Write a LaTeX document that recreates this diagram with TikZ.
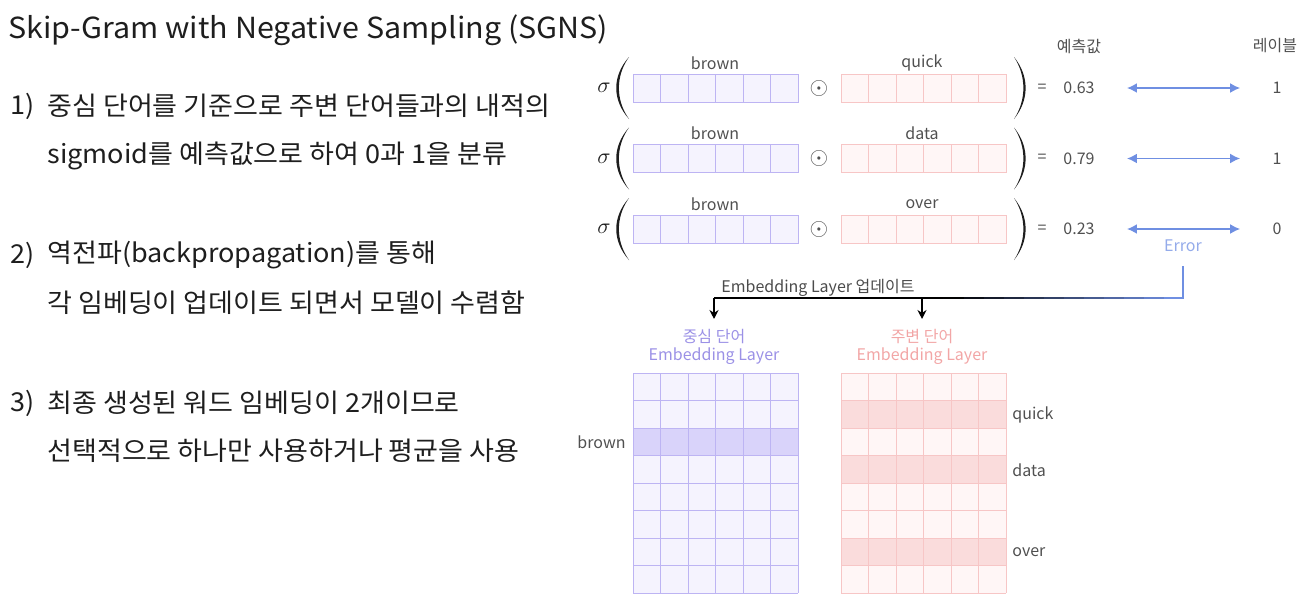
\documentclass[tikz,border=0pt]{standalone}
\usepackage{fontspec}
\setmainfont{Noto Sans CJK KR}
\usepackage{tikz}
\usetikzlibrary{arrows.meta,calc}
\definecolor{txt}{HTML}{1E1E1E}
\definecolor{gtxt}{HTML}{505050}
\definecolor{cline}{HTML}{BDB4F3}
\definecolor{cfill}{HTML}{F5F3FE}
\definecolor{chi}{HTML}{D9D3FA}
\definecolor{ctxt}{HTML}{9B91E6}
\definecolor{oline}{HTML}{F7C6C6}
\definecolor{ofill}{HTML}{FFF6F6}
\definecolor{ohi}{HTML}{FADCDC}
\definecolor{otxt}{HTML}{F2A6A6}
\definecolor{errblue}{HTML}{6F8FE2}
\definecolor{errlight}{HTML}{94ABEA}
\def\fsbody{\fontsize{13}{15}\selectfont\addfontfeatures{FakeStretch=1.04}}
\def\fssmall{\fontsize{8}{9}\selectfont}
\def\cs{27.5}

\begin{document}
\begin{tikzpicture}[x=0.5pt,y=-0.5pt,
    every node/.style={inner sep=1pt},
    lbl/.style={font=\fssmall,text=gtxt},
    body/.style={font=\fsbody,text=txt},
    dbl/.style={errblue,line width=0.9pt,{Latex[length=5pt,width=5pt]}-{Latex[length=5pt,width=5pt]},shorten <=15pt,shorten >=15pt},
    down/.style={line width=0.8pt,-{Stealth[length=4.5pt,width=4.5pt]},shorten >=4pt}]
\useasboundingbox (0,0) rectangle (1308,606);

% left text
\node (title) at (6,30)[right,text=txt,font=\fontsize{14.5}{17}\selectfont\addfontfeatures{FakeStretch=1.05}]{Skip-Gram with Negative Sampling (SGNS)};
\node [body](n1) at (8,106)[right]{1)};
\node [body](s1a) at (45,106)[right]{중심 단어를 기준으로 주변 단어들과의 내적의};
\node [body](s1b) at (45,156)[right]{sigmoid를 예측값으로 하여 0과 1을 분류};
\node [body](n2) at (8,255)[right]{2)};
\node [body](s2a) at (45,255)[right]{역전파(backpropagation)를 통해};
\node [body](s2b) at (45,303)[right]{각 임베딩이 업데이트 되면서 모델이 수렴함};
\node [body](n3) at (8,403)[right]{3)};
\node [body](s3a) at (45,403)[right]{최종 생성된 워드 임베딩이 2개이므로};
\node [body](s3b) at (45,451)[right]{선택적으로 하나만 사용하거나 평균을 사용};

% headers
\node [lbl](pred) at (1079,46){예측값};
\node [lbl](gold) at (1275,46){레이블};

% sigmoid rows
\foreach \r/\yy/\w/\v/\g in {1/88/quick/0.63/1,2/158.5/data/0.79/1,3/229/over/0.23/0}{
  \fill[cfill] (633,\yy-14) rectangle (798,\yy+14);
  \foreach \i in {1,...,5} \draw[cline,line width=0.5pt] (633+\i*\cs,\yy-14) -- (633+\i*\cs,\yy+14);
  \draw[cline,line width=0.5pt] (633,\yy-14) rectangle (798,\yy+14);
  \fill[ofill] (841,\yy-14) rectangle (1006,\yy+14);
  \foreach \i in {1,...,5} \draw[oline,line width=0.5pt] (841+\i*\cs,\yy-14) -- (841+\i*\cs,\yy+14);
  \draw[oline,line width=0.5pt] (841,\yy-14) rectangle (1006,\yy+14);
  \node [lbl](cw\r) at (715,\yy-25){brown};
  \node [lbl](ow\r) at (922,\yy-25){\w};
  \node [text=txt,font=\fontsize{11}{12}\selectfont](sg\r) at (604,\yy){$\sigma$};
  \node [text=gtxt,font=\fontsize{13}{14}\selectfont](od\r) at (819,\yy){$\odot$};
  \fill[txt] (629,\yy-31) .. controls (612,\yy-12) and (612,\yy+12) .. (629,\yy+31)
             .. controls (615.5,\yy+12) and (615.5,\yy-12) .. (629,\yy-31);
  \fill[txt] (1014,\yy-31) .. controls (1029.5,\yy-12) and (1029.5,\yy+12) .. (1014,\yy+31)
             .. controls (1026.5,\yy+12) and (1026.5,\yy-12) .. (1014,\yy-31);
  \node [lbl](eq\r) at (1042,\yy){=};
  \node [lbl](pv\r) at (1079,\yy){\v};
  \node [lbl](lb\r) at (1277,\yy){\g};
  \draw[dbl] (pv\r) -- (lb\r);
}

% error feedback
\node [lbl,text=errlight](err) at (1183,246){Error};
\coordinate (jc) at (714,298);
\coordinate (jo) at (922,298);
\draw[line width=0.8pt,shorten <=6pt] (err.south) |- (jc);
\draw[errblue,line width=0.8pt,shorten <=6pt] (err.south) -- (err.south |- jc);
\foreach \k in {0,...,11}{
  \pgfmathtruncatemacro\p{100-\k*9}
  \draw[errblue!\p!black,line width=0.8pt] (1183.5-\k*20,298) -- (1183.5-\k*20-21,298);
}
\node [lbl,text=txt!80](upd) at (818,288){Embedding Layer 업데이트};

% embedding layers
\node [align=center,text=ctxt,font=\fssmall](ct) at (714,347){중심 단어\\Embedding Layer};
\node [align=center,text=otxt,font=\fssmall](ot) at (922,347){주변 단어\\Embedding Layer};
\draw[down] (jc) -- (ct.north);
\draw[down] (jo) -- (ot.north);

\fill[cfill] (633,373) rectangle (798,593);
\fill[chi] (633,373+2*\cs) rectangle (798,373+3*\cs);
\foreach \i in {0,...,6} \draw[cline,line width=0.5pt] (633+\i*\cs,373) -- (633+\i*\cs,593);
\foreach \j in {0,...,8} \draw[cline,line width=0.5pt] (633,373+\j*\cs) -- (798,373+\j*\cs);

\fill[ofill] (841,373) rectangle (1006,593);
\foreach \j in {1,3,6} \fill[ohi] (841,373+\j*\cs) rectangle (1006,373+\j*\cs+\cs);
\foreach \i in {0,...,6} \draw[oline,line width=0.5pt] (841+\i*\cs,373) -- (841+\i*\cs,593);
\foreach \j in {0,...,8} \draw[oline,line width=0.5pt] (841,373+\j*\cs) -- (1006,373+\j*\cs);

\node [lbl](mb) at (628,442)[left]{brown};
\node [lbl](mq) at (1010,415)[right]{quick};
\node [lbl](md) at (1010,470)[right]{data};
\node [lbl](mo) at (1010,552)[right]{over};
\end{tikzpicture}
\end{document}
